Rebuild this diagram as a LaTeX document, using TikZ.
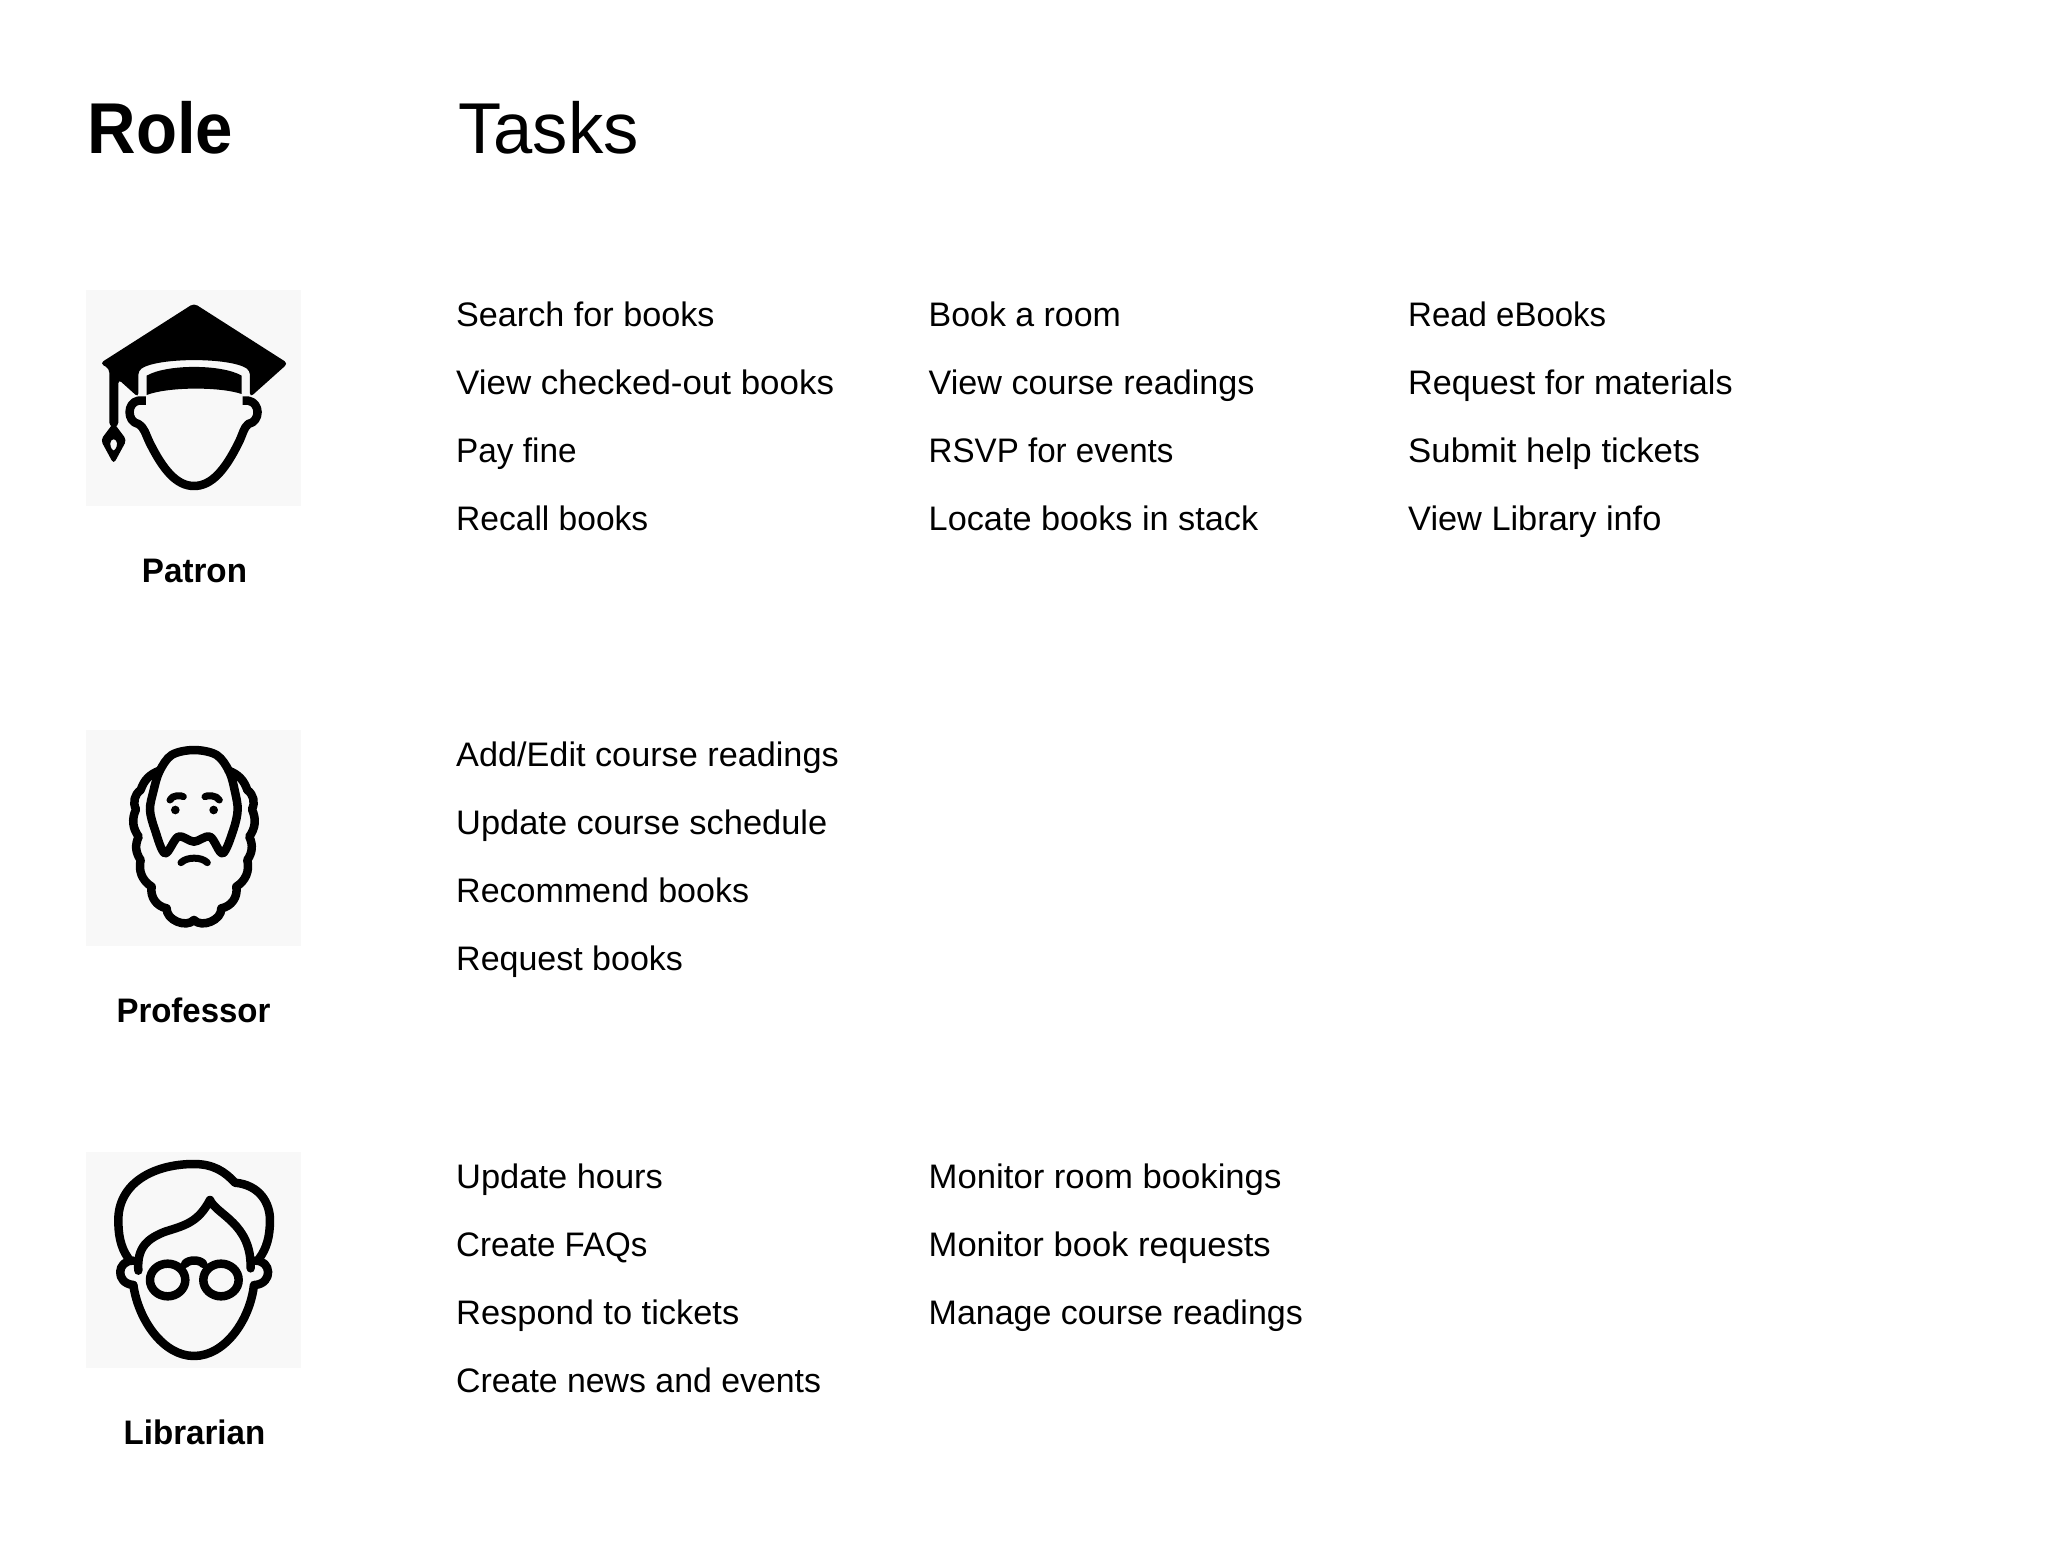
\documentclass[tikz,border=0pt]{standalone}
\usepackage{fontspec}
\usepackage{graphicx}
\setmainfont{Liberation Sans}
\newcommand{\xs}[2]{\scalebox{#1}[1]{#2}}
\begin{document}
\begin{tikzpicture}[x=1pt,y=-1pt,
  task/.style={anchor=base west,inner sep=0pt,font=\fontsize{34}{40}\selectfont},
  role/.style={anchor=base,inner sep=0pt,font=\fontsize{34}{40}\selectfont\bfseries},
  head/.style={anchor=base west,inner sep=0pt,font=\fontsize{72}{80}\selectfont},
  iconbox/.style={fill=boxgrey,draw=none},
  ln/.style={line width=8.5pt,line join=round,line cap=round,draw=black}]
\definecolor{boxgrey}{HTML}{F8F8F8}
\useasboundingbox (0,0) rectangle (2048,1558);
\fill[white] (0,0) rectangle (2048,1558);
\node[head,font=\fontsize{72}{80}\selectfont\bfseries] (hrole) at (87.5,153) {\xs{0.933}{Role}};
\node[head] (htasks) at (458,153) {\xs{0.98}{Tasks}};
% boxes
\fill[iconbox] (86,290) rectangle (301,506);
\fill[iconbox] (86,730) rectangle (301,946);
\fill[iconbox] (86,1152) rectangle (301,1368);
% Patron
\begin{scope}[shift={(70,280)},x=0.3333pt,y=-0.3333pt]
 \fill[black,rounded corners=4pt] (372,70) -- (654,250) -- (540,352) -- (540,272) .. controls (480,232) and (265,232) .. (205,272) -- (205,352) -- (145,298) -- (145,440) -- (118,440) -- (118,266) -- (90,250) -- cycle;
 \fill[black] (230,287) .. controls (290,252) and (455,252) .. (515,287) -- (515,342) .. controls (450,320) and (295,320) .. (230,345) -- cycle;
 \draw[ln,line cap=butt] (228,362) -- (205,362) .. controls (170,368) and (170,425) .. (205,432) .. controls (225,445) and (225,460) .. (240,490) .. controls (280,570) and (320,618) .. (372,618) .. controls (425,618) and (465,570) .. (505,490) .. controls (520,460) and (520,445) .. (535,432) .. controls (572,425) and (572,368) .. (535,362) -- (518,362);
 \fill[black,even odd rule,rounded corners=4pt] (131,428) -- (170,480) -- (131,552) -- (92,480) -- cycle
   (131,472) -- (145,490) -- (131,518) -- (117,490) -- cycle;
\end{scope}
% Professor
\begin{scope}[shift={(70,720)},x=0.3333pt,y=-0.3333pt]
 \draw[ln] plot[smooth cycle,tension=0.55] coordinates {(372,90) (440,105) (478,155) (495,215) (503,270) (490,330) (458,400) (420,350) (372,365) (325,350) (285,400) (255,330) (240,270) (250,215) (268,155) (305,105)};
 \draw[ln] (268,152) to[bend right=25] (212,210) to[bend right=40] (198,268) to[bend right=30] (206,350) to[bend right=30] (212,420) to[bend right=35] (245,500) to[bend right=45] (290,565) to[bend right=70] (372,600) to[bend right=70] (454,565) to[bend right=45] (499,500) to[bend right=35] (532,420) to[bend right=30] (538,350) to[bend right=30] (546,268) to[bend right=40] (532,210) to[bend right=25] (476,152);
 \draw[ln,line width=7pt] (300,240) .. controls (305,225) and (335,225) .. (340,230);
 \draw[ln,line width=7pt] (405,230) .. controls (410,225) and (440,225) .. (448,240);
 \fill (316,270) circle[radius=13];
 \fill (431,270) circle[radius=13];
 \draw[ln,line width=7pt] (333,428) .. controls (350,410) and (395,410) .. (412,428);
\end{scope}
% Librarian
\begin{scope}[shift={(70,1140)},x=0.3333pt,y=-0.3333pt]
 \draw[ln] (175,355) .. controls (150,320) and (145,280) .. (145,240) .. controls (145,130) and (250,72) .. (372,72) .. controls (430,72) and (465,95) .. (495,128) .. controls (570,135) and (600,190) .. (600,240) .. controls (600,290) and (590,325) .. (568,355);
 \draw[ln] (205,392) .. controls (200,320) and (235,295) .. (285,275) .. controls (350,255) and (385,245) .. (420,180) .. controls (440,225) and (545,250) .. (542,385);
 \draw[ln] (190,362) .. controls (140,360) and (135,430) .. (190,435);
 \draw[ln] (555,362) .. controls (605,360) and (610,430) .. (555,435);
 \draw[ln] (190,435) .. controls (205,540) and (280,648) .. (372,648) .. controls (465,648) and (540,540) .. (552,435);
 \draw[ln] (293,420) ellipse[x radius=53,y radius=49];
 \draw[ln] (453,420) ellipse[x radius=53,y radius=49];
 \draw[ln] (345,372) .. controls (355,358) and (390,358) .. (400,372);
\end{scope}
% Role labels
\node[role] (patron) at (194.5,582) {\xs{0.976}{Patron}};
\node[role] (professor) at (193.5,1022) {\xs{0.97}{Professor}};
\node[role] (librarian) at (194.5,1444) {\xs{0.973}{Librarian}};
% tasks
\node[task] (a1) at (456,326) {\xs{1.005}{Search for books}};
\node[task] (a2) at (456,394) {\xs{1.027}{View checked-out books}};
\node[task] (a3) at (456,462) {\xs{0.98}{Pay fine}};
\node[task] (a4) at (456,530) {\xs{0.987}{Recall books}};
\node[task] (b1) at (928.5,326) {\xs{0.997}{Book a room}};
\node[task] (b2) at (928.5,394) {\xs{1.004}{View course readings}};
\node[task] (b3) at (928.5,462) {\xs{0.974}{RSVP for events}};
\node[task] (b4) at (928.5,530) {\xs{1.008}{Locate books in stack}};
\node[task] (c1) at (1408,326) {\xs{0.97}{Read eBooks}};
\node[task] (c2) at (1408,394) {\xs{1.004}{Request for materials}};
\node[task] (c3) at (1408,462) {\xs{1.023}{Submit help tickets}};
\node[task] (c4) at (1408,530) {\xs{1.01}{View Library info}};
\node[task] (d1) at (456,766) {\xs{1.007}{Add/Edit course readings}};
\node[task] (d2) at (456,834) {\xs{1.012}{Update course schedule}};
\node[task] (d3) at (456,902) {Recommend books};
\node[task] (d4) at (456,970) {Request books};
\node[task] (e1) at (456,1188) {\xs{1.013}{Update hours}};
\node[task] (e2) at (456,1256) {\xs{0.973}{Create FAQs}};
\node[task] (e3) at (456,1324) {\xs{1.012}{Respond to tickets}};
\node[task] (e4) at (456,1392) {\xs{0.995}{Create news and events}};
\node[task] (f1) at (928.5,1188) {\xs{1.02}{Monitor room bookings}};
\node[task] (f2) at (928.5,1256) {\xs{1.017}{Monitor book requests}};
\node[task] (f3) at (928.5,1324) {Manage course readings};
\end{tikzpicture}
\end{document}
